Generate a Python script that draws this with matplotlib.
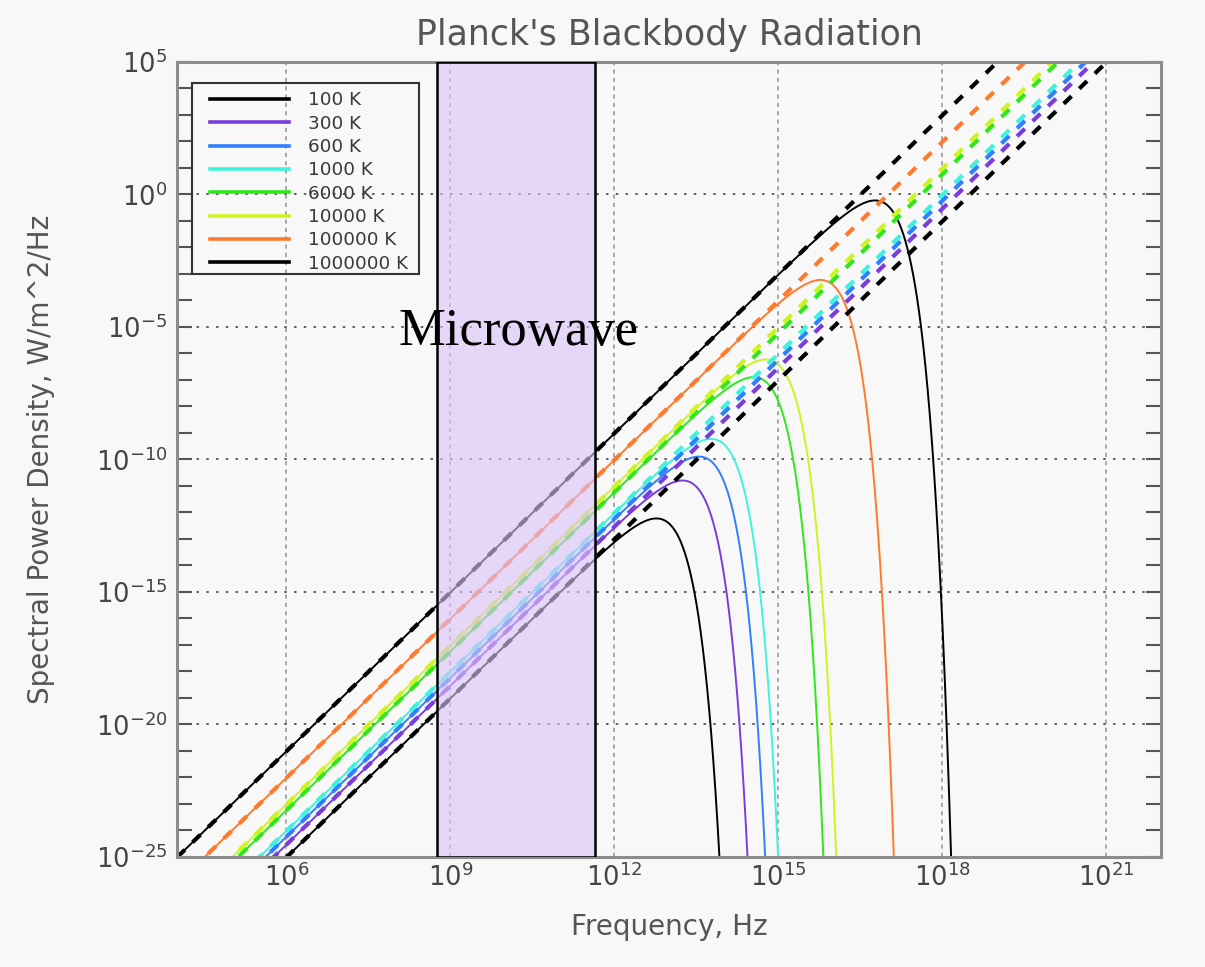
import numpy as np
import matplotlib
matplotlib.use("Agg")
import matplotlib.pyplot as plt
from matplotlib.ticker import FixedLocator, NullLocator, NullFormatter
from matplotlib.colors import to_rgba
from matplotlib.patches import Rectangle

# Blackbody temperatures shown (K) and their legend labels / colours
temperatures = [100, 300, 600, 1000, 6000, 10000, 100000, 1000000]
labels = ["100 K", "300 K", "600 K", "1000 K", "6000 K", "10000 K", "100000 K", "1000000 K"]
colors = ["#000000", "#7a3ddb", "#2f7fff", "#3ff2dc", "#2ee81a", "#cdf422", "#ff7a2c", "#000000"]

# Microwave band highlighted on the frequency axis (Hz)
microwave_band = [5.7e8, 4.5e11]

# Axis decades
x_major = [6, 9, 12, 15, 18, 21]
y_major = [-25, -20, -15, -10, -5, 0, 5]

# Physical constants (SI)
h = 6.62607015e-34
k = 1.380649e-23
c = 2.99792458e8

nu = np.logspace(4, 22, 6000)


def planck_exitance(freq, T):
    """Spectral exitance pi*B_nu(T) in W/m^2/Hz."""
    x = h * freq / (k * T)
    with np.errstate(over="ignore", divide="ignore", invalid="ignore"):
        log_den = np.where(x > 50, x / np.log(10), np.log10(np.expm1(np.minimum(x, 50))))
        log_val = np.log10(2 * np.pi * h / c**2) + 3 * np.log10(freq) - log_den
        return 10.0 ** log_val


def rayleigh_jeans(freq, T):
    """Low-frequency limit pi*2*nu^2*k*T/c^2."""
    return 2 * np.pi * freq**2 * k * T / c**2


fig = plt.figure(figsize=(12.05, 9.67), dpi=100, facecolor="#f8f8f8")
ax = fig.add_axes([0.1469, 0.1138, 0.8166, 0.8221])
ax.set_facecolor("#f8f8f8")
ax.set_xscale("log")
ax.set_yscale("log")
ax.set_xlim(1e4, 1e22)
ax.set_ylim(1e-25, 1e5)

for T, lab, col in zip(temperatures, labels, colors):
    ax.plot(nu, planck_exitance(nu, T), color=col, lw=1.4, label=lab, zorder=2)
for T, col in zip(temperatures, colors):
    ax.plot(nu, rayleigh_jeans(nu, T), color=col, lw=3.0, dashes=(2.6, 2.6), zorder=2.5)

# Microwave band overlay
ax.axvspan(microwave_band[0], microwave_band[1], facecolor=to_rgba("#dcc2f7", 0.62),
           edgecolor="black", lw=1.8, zorder=3)
ax.text(0.3476, 0.644, "Microwave", transform=ax.transAxes, ha="center", va="baseline",
        fontsize=38, family="Liberation Serif", color="black", zorder=5)

# Ticks and grid
ax.xaxis.set_major_locator(FixedLocator([10.0**e for e in x_major]))
ax.xaxis.set_minor_locator(NullLocator())
ax.set_xticklabels([r"$10^{%d}$" % e for e in x_major])
ax.yaxis.set_major_locator(FixedLocator([10.0**e for e in y_major]))
ax.yaxis.set_minor_locator(FixedLocator(10.0 ** np.arange(-25, 6)))
ax.yaxis.set_minor_formatter(NullFormatter())
ax.set_yticklabels([r"$10^{%d}$" % e for e in y_major])

ax.tick_params(axis="y", which="both", direction="in", length=11, width=1.5,
               color="#555555", left=True, right=True, pad=7)
ax.tick_params(axis="y", which="major", labelsize=18.5, labelcolor="#444444")
ax.tick_params(axis="x", which="both", length=0, pad=5, labelsize=18.5, labelcolor="#444444")

ax.set_axisbelow(True)
ax.xaxis.grid(True, color="#9a9a9a", lw=1.2, linestyle=(0, (2.5, 2.5)))
ax.yaxis.grid(True, which="major", color="#555555", lw=1.3, linestyle=(0, (1.4, 4.0)))

for s in ax.spines.values():
    s.set_color("#8c8c8c")
    s.set_linewidth(2.2)

# Labels and title
ax.set_title("Planck's Blackbody Radiation", fontsize=25, color="#555555", pad=12)
ax.set_xlabel("Frequency, Hz", fontsize=20, color="#555555")
ax.xaxis.set_label_coords(0.5, -0.070)
ax.set_ylabel("Spectral Power Density, W/m^2/Hz", fontsize=20, color="#555555")
ax.yaxis.set_label_coords(-0.124, 0.5)

# Legend entries, with a separately drawn frame box
leg = ax.legend(loc="upper left", bbox_to_anchor=(0.0335, 0.963), frameon=False,
                fontsize=13.2, handlelength=4.3, handletextpad=1.05, labelspacing=0.29,
                borderpad=0, borderaxespad=0)
for line in leg.get_lines():
    line.set_linewidth(2.6)
for t in leg.get_texts():
    t.set_color("#3a3a3a")
leg.set_zorder(6)
ax.add_patch(Rectangle((0.0149, 0.733), 0.2311, 0.2402, transform=ax.transAxes,
                       facecolor="none", edgecolor="#333333", lw=1.5, zorder=6))

fig.savefig("out.png", dpi=100, facecolor=fig.get_facecolor())
